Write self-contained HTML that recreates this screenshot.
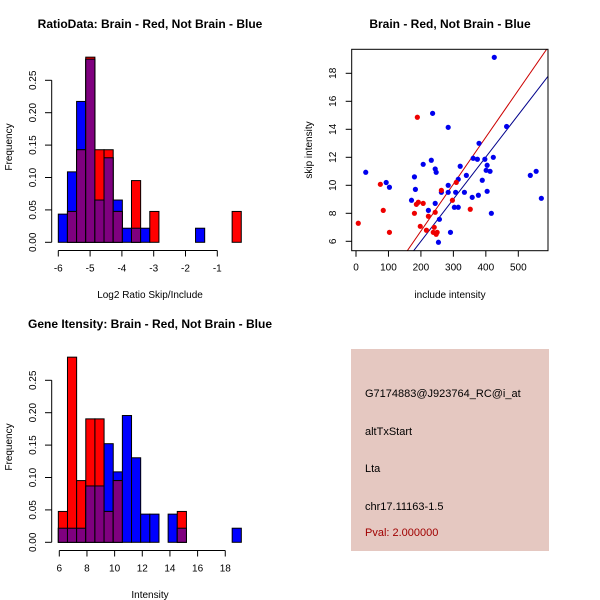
<!DOCTYPE html>
<html><head><meta charset="utf-8"><style>
body{margin:0;background:#fff;}
svg{display:block;font-family:"Liberation Sans","DejaVu Sans",sans-serif;}
</style></head><body>
<svg id="chart" width="600" height="600" viewBox="0 0 600 600" xmlns="http://www.w3.org/2000/svg">
<rect width="600" height="600" fill="#fff"/>
<g id="p1"></g>
<g id="p2"></g>
<g id="p3"></g>
<g>
<rect x="351" y="349" width="198" height="202" fill="#e5c8c1"/>
<text x="365" y="397" font-size="11" fill="#000">G7174883@J923764_RC@i_at</text>
<text x="365" y="435" font-size="11" fill="#000">altTxStart</text>
<text x="365" y="472" font-size="11" fill="#000">Lta</text>
<text x="365" y="510" font-size="11" fill="#000">chr17.11163-1.5</text>
<text x="365" y="536" font-size="11" fill="#a00000">Pval: 2.000000</text>
</g>
</svg>
<script>
const ratioBlueCounts=[2,5,10,13,3,6,3,1,1,1,0,0,0,0,0,1,0,0,0,0];
const ratioRedCounts=[0,1,3,6,3,3,1,0,2,0,1,0,0,0,0,0,0,0,0,1];
const ratioXTicks=[-6,-5,-4,-3,-2,-1];
const intBlueCounts=[1,1,1,4,4,7,5,9,6,2,2,0,2,1,0,0,0,0,0,1];
const intRedCounts=[1,6,2,4,4,1,2,0,0,0,0,0,0,1,0,0,0,0,0,0];
const intXTicks=[6,8,10,12,14,16,18];
const freqTicks=[0,0.05,0.10,0.15,0.20,0.25];
const freqTickLabels=["0.00","0.05","0.10","0.15","0.20","0.25"];
const blueX=[30,93,103,236,284,426,464,379,361,374,397,423,232,207,180,244,247,183,171,223,244,257,254,291,263,284,284,307,303,315,315,321,340,334,358,377,389,401,404,413,404,417,537,555,571];
const blueY=[10.93,10.2,9.86,15.14,14.14,19.14,14.2,13.0,11.93,11.86,11.86,12.0,11.79,11.5,10.6,11.17,10.93,9.71,8.93,8.21,8.71,7.57,5.93,6.64,9.5,10.0,9.5,9.5,8.43,8.43,10.43,11.36,10.71,9.5,9.14,9.29,10.36,11.07,11.43,11.0,9.57,8.0,10.71,11.0,9.07];
const redX=[7,75,84,103,189,180,186,192,207,198,223,217,244,241,238,247,250,263,297,309,352];
const redY=[7.29,10.07,8.21,6.64,14.86,8.0,8.64,8.79,8.71,7.07,7.79,6.79,8.07,7.0,6.64,6.5,6.64,9.64,8.93,10.21,8.29];
const fitIntercepts=[0.03,-0.02];
const fitSlopes=[0.03352,0.0301];
const scatterXTicks=[0,100,200,300,400,500];
const scatterYTicks=[6,8,10,12,14,16,18];

const NS="http://www.w3.org/2000/svg";
function mk(parent,tag,attrs,text){const e=document.createElementNS(NS,tag);for(const k in attrs)e.setAttribute(k,attrs[k]);if(text!==undefined)e.textContent=text;parent.appendChild(e);return e;}

function hist(g,title,xlabel,blue,red,nB,nR,x0,binW,xTicks,xs,ty){
  const base=ty+242.3, pxPerUnit=648;
  const y=v=>base-v*pxPerUnit;
  let t=mk(g,'text',{x:150,y:ty+28,'font-size':12,'font-weight':'bold','text-anchor':'middle'},title);
  
  
  for(let i=0;i<blue.length;i++){
    const xl=xs(x0+i*binW), xr=xs(x0+(i+1)*binW);
    const b=blue[i]/nB, r=red[i]/nR, m=Math.min(b,r);
    if(b>0){const e=mk(g,'rect',{x:xl,y:y(b),width:xr-xl,height:base-y(b),fill:'#0000ff',stroke:'#000','stroke-width':1});
      
      }
    if(r>0){const e=mk(g,'rect',{x:xl,y:y(r),width:xr-xl,height:base-y(r),fill:'#ff0000',stroke:'#000','stroke-width':1});
      
      }
    if(m>0){const e=mk(g,'rect',{x:xl,y:y(m),width:xr-xl,height:base-y(m),fill:'#7f007f',stroke:'#000','stroke-width':1});
      
      }
  }
  // y axis
  const ya=mk(g,'g',{});
  
  
  mk(ya,'line',{x1:51.7,x2:51.7,y1:y(0),y2:y(0.25),stroke:'#000'});
  freqTicks.forEach((v,i)=>{
    mk(ya,'line',{x1:51.7,x2:45,y1:y(v),y2:y(v),stroke:'#000'});
    const tx=mk(ya,'text',{x:0,y:0,'font-size':10,'text-anchor':'middle',transform:`translate(36,${y(v)}) rotate(-90)`},freqTickLabels[i]);
    
    
  });
  const yt=mk(g,'text',{x:0,y:0,'font-size':10,'text-anchor':'middle',transform:`translate(12,${ty+147}) rotate(-90)`},'Frequency');
  
  
  const xa=mk(g,'g',{});
  
  
  const ay=ty+250.5;
  mk(xa,'line',{x1:xs(xTicks[0]),x2:xs(xTicks[xTicks.length-1]),y1:ay,y2:ay,stroke:'#000'});
  xTicks.forEach(v=>{
    mk(xa,'line',{x1:xs(v),x2:xs(v),y1:ay,y2:ay+6,stroke:'#000'});
    const tx=mk(xa,'text',{x:xs(v),y:ay+21,'font-size':10,'text-anchor':'middle'},String(v));
    
    
  });
  const xt=mk(g,'text',{x:150,y:ty+298,'font-size':10,'text-anchor':'middle'},xlabel);
  
  
}
hist(document.getElementById('p1'),'RatioData: Brain - Red, Not Brain - Blue','Log2 Ratio Skip/Include',
  ratioBlueCounts,ratioRedCounts,46,21,-6,0.2877,ratioXTicks,v=>58.3+(v+6)*31.8,0);
hist(document.getElementById('p3'),'Gene Itensity: Brain - Red, Not Brain - Blue','Intensity',
  intBlueCounts,intRedCounts,46,21,5.93,0.6616,intXTicks,v=>59.3+(v-6)*13.83,300);

// scatter
(function(){
  const g=document.getElementById('p2');
  const L=351.7,R=548,T=49.3,B=250.7;
  const sx=v=>356+v*0.3246, sy=v=>241.3-(v-6)*14;
  let t=mk(g,'text',{x:450,y:28,'font-size':12,'font-weight':'bold','text-anchor':'middle'},'Brain - Red, Not Brain - Blue');
  
  
  mk(g,'defs',{}).innerHTML='<clipPath id="sc"><rect x="351.7" y="49.3" width="196.3" height="201.4"/></clipPath>';
  const colors=['#cc0000','#00008b'];
  fitIntercepts.forEach((a,i)=>{
    const b=fitSlopes[i];
    const e=mk(g,'line',{x1:sx(0),y1:sy(a),x2:sx(700),y2:sy(a+b*700),stroke:colors[i],'stroke-width':1,'clip-path':'url(#sc)'});
    
    
  });
  blueX.forEach((v,i)=>{const e=mk(g,'circle',{cx:sx(v),cy:sy(blueY[i]),r:2.6,fill:'#0000ee'});
    
    });
  redX.forEach((v,i)=>{const e=mk(g,'circle',{cx:sx(v),cy:sy(redY[i]),r:2.6,fill:'#ee0000'});
    
    });
  const box=mk(g,'rect',{x:L,y:T,width:R-L,height:B-T,fill:'none',stroke:'#000'});
  
  
  scatterXTicks.forEach(v=>{
    mk(g,'line',{x1:sx(v),x2:sx(v),y1:B,y2:B+6,stroke:'#000'});
    const tx=mk(g,'text',{x:sx(v),y:B+20,'font-size':10,'text-anchor':'middle'},String(v));
    
    
  });
  scatterYTicks.forEach(v=>{
    mk(g,'line',{x1:L,x2:L-6,y1:sy(v),y2:sy(v),stroke:'#000'});
    const tx=mk(g,'text',{x:0,y:0,'font-size':10,'text-anchor':'middle',transform:`translate(336,${sy(v)}) rotate(-90)`},String(v));
    
    
  });
  const xt=mk(g,'text',{x:450,y:298,'font-size':10,'text-anchor':'middle'},'include intensity');
  
  
  const yt=mk(g,'text',{x:0,y:0,'font-size':10,'text-anchor':'middle',transform:'translate(312,150) rotate(-90)'},'skip intensity');
  
  
})();
</script>
</body></html>
